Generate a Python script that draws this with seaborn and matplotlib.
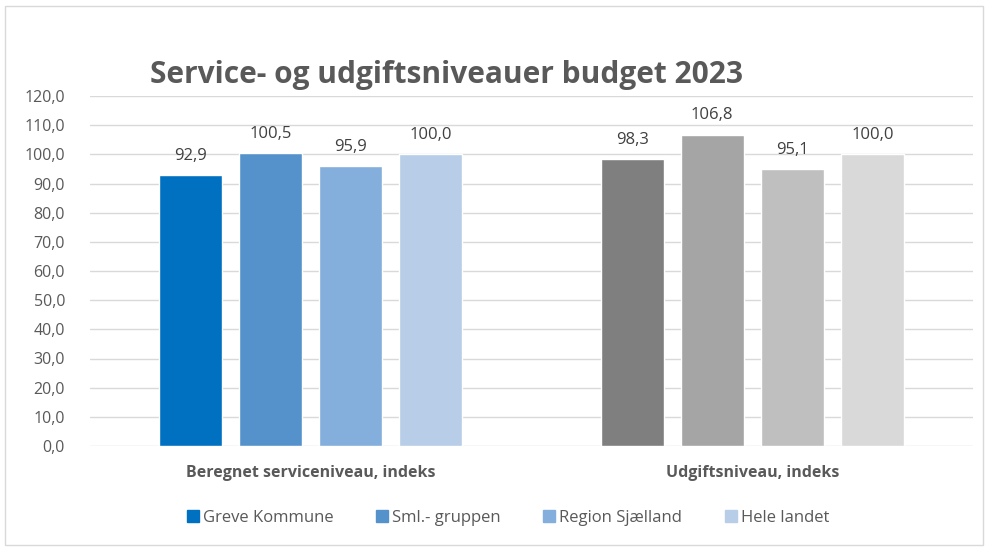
import pandas as pd
import matplotlib.pyplot as plt
import seaborn as sns
from matplotlib.patches import Rectangle
from matplotlib.lines import Line2D

categories = ["Beregnet serviceniveau, indeks", "Udgiftsniveau, indeks"]
series = ["Greve Kommune", "Sml.- gruppen", "Region Sjælland", "Hele landet"]
greve = [92.9, 98.3]
sml = [100.5, 106.8]
region = [95.9, 95.1]
hele = [100.0, 100.0]

blues = ["#0070C0", "#5592CB", "#84AEDC", "#B8CDE7"]
grays = ["#7F7F7F", "#A5A5A5", "#BFBFBF", "#D9D9D9"]

df = pd.DataFrame({
    "kategori": categories * 4,
    "serie": [s for s in series for _ in categories],
    "vaerdi": greve + sml + region + hele,
})

sns.set_style("white")
plt.rcParams["font.family"] = ["Open Sans", "DejaVu Sans"]
txt = "#595959"

fig = plt.figure(figsize=(9.88, 5.47), dpi=100)
ax = fig.add_axes([90 / 988, 1 - 446 / 547, 883 / 988, 350 / 547])
sns.barplot(data=df, x="kategori", y="vaerdi", hue="serie", order=categories,
            hue_order=series, palette=blues, saturation=1, width=0.725, gap=0.21,
            legend=False, ax=ax)

# second group in grays
for i, cont in enumerate(ax.containers):
    cont[1].set_facecolor(grays[i])
    ax.bar_label(cont, labels=[f"{v:.1f}".replace(".", ",") for v in cont.datavalues],
                 padding=8, fontsize=12, color="#404040")

ax.set_ylim(0, 120)
ax.set_yticks(range(0, 121, 10))
ax.set_yticklabels([f"{t},0" for t in range(0, 121, 10)], fontsize=11.5, color=txt)
ax.set_xlim(-0.5, 1.5)
ax.set_xticks([0, 1])
ax.set_xticklabels(categories, fontsize=11.5, fontweight="bold", color=txt)
ax.tick_params(axis="y", length=0, pad=18)
ax.tick_params(axis="x", length=0, pad=14)
ax.set_xlabel("")
ax.set_ylabel("")
ax.grid(axis="y", color="#D9D9D9", linewidth=1)
ax.set_axisbelow(True)
for s in ax.spines.values():
    s.set_visible(False)

fig.text(150 / 988, 1 - 75 / 547, "Service- og udgiftsniveauer budget 2023",
         fontsize=21.5, fontweight="bold", color=txt, va="center", ha="left")

handles = [Line2D([], [], marker="s", linestyle="", markersize=9,
                  markerfacecolor=c, markeredgecolor=c) for c in blues]
fig.legend(handles, series, loc="center", bbox_to_anchor=(507 / 988, 1 - 518 / 547),
           ncol=4, frameon=False, fontsize=12, labelcolor=txt,
           handletextpad=0.1, columnspacing=2.4, handlelength=1.0)

fig.patches.append(Rectangle((5 / 988, 2 / 547), 978 / 988, 539 / 547,
                             transform=fig.transFigure, fill=False,
                             edgecolor="#D9D9D9", linewidth=1))

plt.savefig("out.png", dpi=100)
